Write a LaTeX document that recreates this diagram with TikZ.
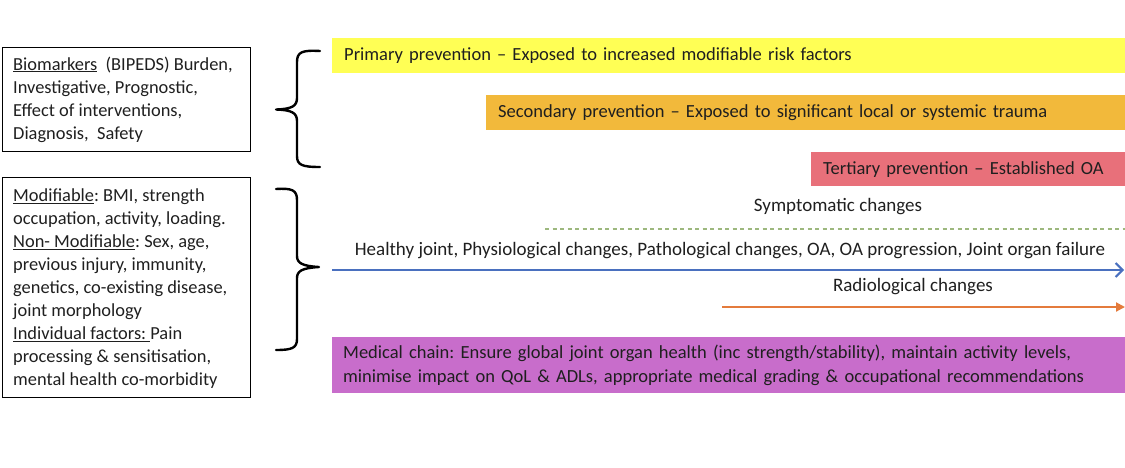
\documentclass[tikz,border=0pt]{standalone}
\usepackage{fontspec}
\setmainfont{Carlito}
\frenchspacing
\usetikzlibrary{arrows.meta}
\definecolor{cyellow}{HTML}{FFFF55}
\definecolor{corange}{HTML}{F2B93B}
\definecolor{cred}{HTML}{E8707A}
\definecolor{cpurple}{HTML}{C86DCB}
\definecolor{cblue}{HTML}{4A70BF}
\definecolor{carrow}{HTML}{E47B3C}
\definecolor{cgreen}{HTML}{9DB87E}
\tikzset{
  txt/.style={font=\fontsize{18.5}{23}\selectfont, text=black!88},
  leftbox/.style={draw=black, line width=1pt, anchor=north west, minimum width=248pt, inner sep=0pt},
  lefttext/.style={txt, font=\fontsize{18.4}{23}\selectfont, anchor=west, inner sep=0pt, align=left},
  bar/.style={txt, anchor=north west, inner xsep=12pt, inner ysep=0pt, align=left},
  lbl/.style={txt, font=\fontsize{19}{23}\selectfont, inner sep=0pt},
  bracepath/.style={line width=2.4pt, black, line cap=round, line join=round},
}
\begin{document}
\begin{tikzpicture}[x=1pt,y=-1pt]
\useasboundingbox (0,0) rectangle (1125,467);
% left boxes
\node[leftbox, minimum height=104pt] (biobox) at (2,47) {};
\node[lefttext] (bio) at ([xshift=11pt]biobox.west)
  {\underline{Biomarkers}\ \ (BIPEDS) Burden,\\Investigative, Prognostic,\\Effect of interventions,\\Diagnosis,\ \ Safety};
\node[leftbox, minimum height=220pt] (riskbox) at (2,177) {};
\node[lefttext] (risk) at ([xshift=11pt,yshift=-1pt]riskbox.west)
  {\underline{Modifiable}: BMI, strength\\occupation, activity, loading.\\\underline{Non- Modifiable}: Sex, age,\\previous injury, immunity,\\genetics, co-existing disease,\\joint morphology\\\underline{Individual factors:\ }Pain\\processing \& sensitisation,\\mental health co-morbidity};
% braces
\draw[bracepath] (320,51) .. controls (302,50) and (297,52) .. (297,62) -- (297,98)
  .. controls (297,106) and (292,109) .. (276,109.5)
  .. controls (292,110) and (297,113) .. (297,121) -- (297,156)
  .. controls (297,165) and (302,167) .. (320,167);
\draw[bracepath] (276,189) .. controls (292,188) and (297,190) .. (297,200) -- (297,256)
  .. controls (297,263) and (302,266) .. (319,267)
  .. controls (302,268) and (297,271) .. (297,278) -- (297,339)
  .. controls (297,348) and (292,350) .. (276,350);
% prevention bars
\node[bar, fill=cyellow, minimum width=793pt, minimum height=35pt, text width=769pt] (prim) at (332,38)
  {Primary prevention -- Exposed to increased modifiable risk factors};
\node[bar, fill=corange, minimum width=639pt, minimum height=35pt, text width=615pt] (sec) at (486,95)
  {Secondary prevention -- Exposed to significant local or systemic trauma};
\node[bar, fill=cred, minimum width=314pt, minimum height=34pt, text width=290pt] (ter) at (811,152)
  {Tertiary prevention -- Established OA};
% timeline
\node[lbl] (symp) at (838,207) {Symptomatic changes};
\coordinate (gs) at (545,229);
\coordinate (ge) at (1125,229);
\draw[cgreen, line width=1.3pt, dash pattern=on 4pt off 3.5pt] (gs) -- (ge);
\node[lbl] (stages) at (730,251) {Healthy joint, Physiological changes, Pathological changes, OA, OA progression, Joint organ failure};
\coordinate (bs) at (332,270);
\coordinate (be) at (1124,270);
\draw[cblue, line width=2pt, -{Straight Barb[length=7pt,width=14pt,line width=2pt]}] (bs) -- (be);
\node[lbl] (radio) at (913,287) {Radiological changes};
\coordinate (os) at (722,307);
\coordinate (oe) at (1125,307);
\draw[carrow, line width=2pt, -{Triangle[length=9pt,width=9pt]}] (os) -- (oe);
% medical chain
\node[bar, txt, font=\fontsize{18.5}{24}\selectfont, fill=cpurple, minimum width=793pt, minimum height=56pt, text width=771pt, inner xsep=11pt] (med) at (332,337)
  {Medical chain: Ensure global joint organ health (inc strength/stability), maintain activity levels,\\minimise impact on QoL \& ADLs, appropriate medical grading \& occupational recommendations};
\end{tikzpicture}
\end{document}
